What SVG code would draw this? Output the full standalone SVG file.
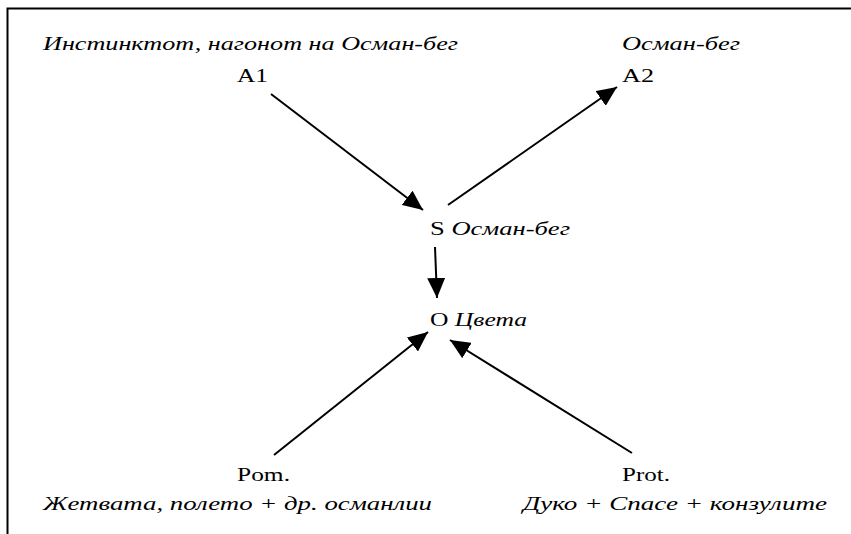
<svg xmlns="http://www.w3.org/2000/svg" width="851" height="534" viewBox="0 0 851 534">
<style>
text{font-family:'Liberation Serif','Times New Roman','DejaVu Serif',serif;font-size:19px;fill:#000}
.i{font-style:italic}
.c{stroke:#000;stroke-width:2;fill:none}
</style>
<defs>
<marker id="ah" markerUnits="userSpaceOnUse" markerWidth="22" markerHeight="18" refX="20" refY="9" orient="auto">
<path d="M0,0 L20,9 L0,18 Z" fill="#000"/>
</marker>
</defs>
<rect width="851" height="534" fill="#fff"/>
<path d="M7.5,534 V8.5 H851" stroke="#000" stroke-width="2" fill="none"/>
<g id="A1"><text class="i" x="43" y="50" textLength="415" lengthAdjust="spacingAndGlyphs">Инстинктот, нагонот на Осман-бег</text><text x="237" y="82" textLength="31" lengthAdjust="spacingAndGlyphs">A1</text></g>
<g id="A2"><text class="i" x="622" y="50" textLength="118" lengthAdjust="spacingAndGlyphs">Осман-бег</text><text x="622" y="82" textLength="32" lengthAdjust="spacingAndGlyphs">A2</text></g>
<g id="S"><text x="430" y="235" textLength="140" lengthAdjust="spacingAndGlyphs">S <tspan class="i">Осман-бег</tspan></text></g>
<g id="O"><text x="430" y="326" textLength="97" lengthAdjust="spacingAndGlyphs">O <tspan class="i">Цвета</tspan></text></g>
<g id="Pom"><text x="237" y="481" textLength="53" lengthAdjust="spacingAndGlyphs">Pom.</text><text class="i" x="43" y="510" textLength="389" lengthAdjust="spacingAndGlyphs">Жетвата, полето + др. османлии</text></g>
<g id="Prot"><text x="622" y="481" textLength="48" lengthAdjust="spacingAndGlyphs">Prot.</text><text class="i" x="523" y="510" textLength="304" lengthAdjust="spacingAndGlyphs">Дуко + Спасе + конзулите</text></g>
<g id="connectors">
<line class="c" x1="271" y1="94" x2="423" y2="210" marker-end="url(#ah)"/>
<line class="c" x1="448" y1="205" x2="617" y2="87" marker-end="url(#ah)"/>
<line class="c" x1="435" y1="247" x2="437" y2="298" marker-end="url(#ah)"/>
<line class="c" x1="274" y1="455" x2="428" y2="332" marker-end="url(#ah)"/>
<line class="c" x1="632" y1="453" x2="450" y2="340" marker-end="url(#ah)"/>
</g>
</svg>
